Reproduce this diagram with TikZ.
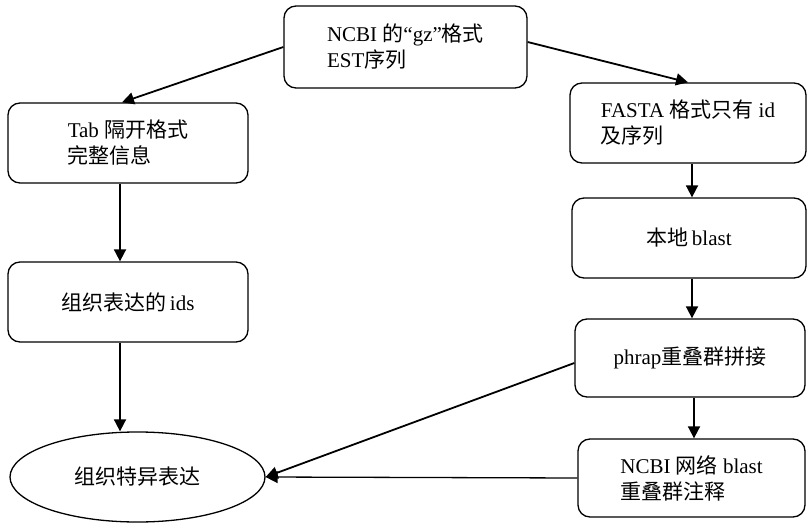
\documentclass[tikz,border=0pt]{standalone}
\usepackage{fontspec}
\setmainfont{Liberation Serif}
\newfontfamily\zh{Noto Sans CJK SC}
\usetikzlibrary{arrows.meta,positioning,shapes.geometric,calc}
\tikzset{
  % rounded process box, text block centred, lines left aligned
  stage/.style = {rectangle, rounded corners=12pt, draw=black, line width=1.3pt,
                  align=left, inner sep=0pt, font=\fontsize{21}{26}\selectfont},
  goal/.style  = {ellipse, draw=black, line width=1.3pt, inner sep=0pt,
                  font=\fontsize{21}{26}\selectfont},
  flow/.style  = {-{Triangle[length=12pt,width=12pt]}, line width=1.8pt},
  thin flow/.style = {-{Triangle[length=12pt,width=12pt]}, line width=1.3pt},
}

\begin{document}
\begin{tikzpicture}[x=1pt,y=-1pt]
\useasboundingbox (0,0) rectangle (809,524);
\node[stage, minimum width=243pt, minimum height=82pt] (src)   at (405.5,47) {NCBI {\zh 的}“gz”{\zh 格式}\\EST{\zh 序列}};
\node[stage, minimum width=240pt, minimum height=80pt] (tab)   at (128,143)  {Tab {\zh 隔开格式}\\{\zh 完整信息}};
\node[stage, minimum width=240pt, minimum height=80pt] (ids)   at (128,302)  {{\zh 组织表达的}\,ids};
\node[goal,  minimum width=255pt, minimum height=90pt] (spec)  at (137.5,477) {{\zh 组织特异表达}};
\node[stage, minimum width=236pt, minimum height=80pt] (fasta) at (688,123)  {FASTA {\zh 格式只有} id\\{\zh 及序列}};
\node[stage, minimum width=234pt, minimum height=80pt] (local) at (689,238)  {{\zh 本地}\,blast};
\node[stage, minimum width=230pt, minimum height=78pt] (phrap) at (690,358)  {phrap{\zh 重叠群拼接}};
\node[stage, minimum width=227pt, minimum height=78pt] (annot) at (691.5,478) {NCBI {\zh 网络} blast\\{\zh 重叠群注释}};
% left branch
\draw[flow] (src.west) -- ([xshift=-6pt]tab.north);
\draw[flow] ([xshift=-8pt]tab.south) -- ([xshift=-8pt]ids.north);
\draw[flow] ([xshift=-8pt]ids.south) -- ([xshift=-8pt]ids.south |- spec.north);
% right branch
\draw[flow] ([yshift=5pt]src.east) -- (fasta.north);
\draw[flow] ([xshift=4pt]fasta.south) -- ([xshift=3pt]local.north);
\draw[flow] ([xshift=3pt]local.south) -- ([xshift=2pt]phrap.north);
\draw[flow] ([xshift=4pt]phrap.south) -- ([xshift=2.5pt]annot.north);
% back to the goal
\draw[flow] ([yshift=-5pt]phrap.west) -- (spec.east);
\draw[thin flow] (annot.west) -- (spec.east);
\end{tikzpicture}
\end{document}
